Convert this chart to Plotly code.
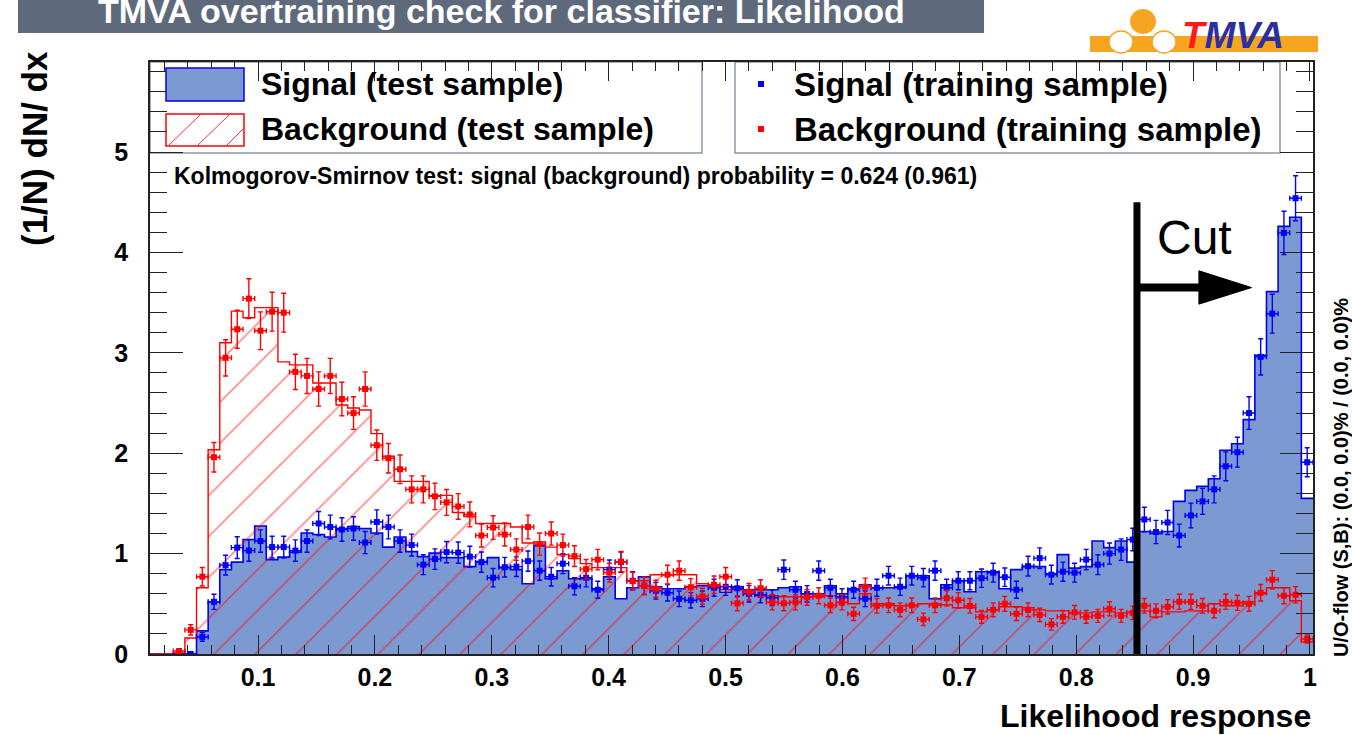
import numpy as np
import plotly.graph_objects as go

# ---------------- data ----------------
X_MIN, X_MAX = 0.0076, 1.0026
N_BINS = 100

# Signal, test sample (filled histogram), dN/dx per bin
sig_test = [0, 0, 0, 0, 0.23, 0.52, 0.84, 0.915, 1.14, 1.275,
            0.94, 0.965, 1.015, 1.205, 1.19, 1.165, 1.25, 1.27, 1.25, 1.205,
            1.065, 1.165, 1.02, 0.97, 1.005, 0.96, 0.96, 0.87, 0.92, 0.96,
            0.86, 0.84, 0.70, 1.08, 0.75, 0.83, 0.75, 0.75, 0.65, 0.77,
            0.55, 0.66, 0.77, 0.67, 0.65, 0.65, 0.67, 0.68, 0.68, 0.615,
            0.67, 0.64, 0.64, 0.64, 0.66, 0.67, 0.60, 0.60, 0.68, 0.60,
            0.65, 0.69, 0.66, 0.66, 0.66, 0.78, 0.78, 0.55, 0.69, 0.73,
            0.62, 0.82, 0.82, 0.65, 0.84, 0.87, 0.87, 0.80, 0.99, 0.855,
            0.87, 1.125, 1.06, 1.125, 0.915, 1.22, 1.20, 1.22, 1.52, 1.63,
            1.67, 1.745, 2.03, 2.095, 2.335, 2.975, 3.61, 4.26, 4.35, 1.55]

# Background, test sample (hatched histogram)
bkg_test = [0, 0, 0.01, 0.16, 0.66, 2.035, 3.10, 3.415, 3.35, 3.45,
            3.45, 2.91, 2.88, 2.88, 2.70, 2.70, 2.48, 2.45, 2.43, 2.195,
            1.97, 1.72, 1.72, 1.72, 1.58, 1.58, 1.41, 1.37, 1.30, 1.30,
            1.30, 1.265, 1.105, 1.115, 1.065, 0.99, 0.95, 0.90, 0.86, 0.86,
            0.86, 0.73, 0.73, 0.79, 0.79, 0.79, 0.79, 0.70, 0.68, 0.64,
            0.64, 0.62, 0.58, 0.58, 0.57, 0.57, 0.57, 0.57, 0.58, 0.56,
            0.50, 0.60, 0.50, 0.50, 0.48, 0.48, 0.50, 0.50, 0.49, 0.46,
            0.46, 0.42, 0.44, 0.47, 0.47, 0.46, 0.44, 0.43, 0.43, 0.40,
            0.41, 0.42, 0.42, 0.41, 0.42, 0.43, 0.37, 0.42, 0.42, 0.43,
            0.43, 0.50, 0.48, 0.48, 0.52, 0.60, 0.66, 0.66, 0.53, 0.12]

# Signal, training sample (points)
sig_train = [None, None, 0.0, 0.0, 0.17, 0.52, 0.885, 1.06, 1.03, 1.125,
             1.065, 1.065, 1.03, 1.125, 1.30, 1.265, 1.24, 1.25, 1.11, 1.315,
             1.265, 1.125, 1.085, 0.89, 0.945, 1.015, 1.01, 0.97, 0.915, 0.76,
             0.865, 0.87, 0.925, 0.83, 0.77, 0.90, 0.675, 0.76, 0.64, 0.84,
             0.915, 0.73, 0.68, 0.63, 0.61, 0.55, 0.535, 0.55, 0.66, 0.67,
             0.655, 0.60, 0.59, 0.56, 0.84, 0.64, 0.60, 0.83, 0.66, 0.57,
             0.64, 0.55, 0.66, 0.78, 0.67, 0.78, 0.76, 0.83, 0.66, 0.73,
             0.73, 0.755, 0.81, 0.765, 0.64, 0.875, 0.955, 0.79, 0.82, 0.81,
             0.94, 0.89, 1.00, 1.04, 1.14, 1.34, 1.215, 1.31, 1.18, 1.38,
             1.52, 1.64, 1.87, 2.01, 2.40, 2.96, 3.39, 4.195, 4.54, 1.91]

# Background, training sample (points)
bkg_train = [None, None, 0.03, 0.24, 0.77, 1.96, 2.95, 3.235, 3.54, 3.22,
             3.41, 3.40, 2.81, 2.77, 2.64, 2.77, 2.54, 2.40, 2.64, 2.08,
             1.95, 1.84, 1.64, 1.64, 1.57, 1.51, 1.47, 1.39, 1.18, 1.26,
             1.19, 1.04, 1.265, 1.095, 1.20, 1.085, 0.975, 0.845, 0.94, 0.81,
             0.92, 0.725, 0.68, 0.65, 0.79, 0.83, 0.665, 0.575, 0.69, 0.77,
             0.505, 0.62, 0.655, 0.515, 0.505, 0.515, 0.565, 0.58, 0.485, 0.515,
             0.40, 0.67, 0.48, 0.485, 0.44, 0.485, 0.345, 0.485, 0.555, 0.535,
             0.48, 0.37, 0.44, 0.50, 0.40, 0.44, 0.39, 0.295, 0.37, 0.415,
             0.37, 0.38, 0.45, 0.38, 0.41, 0.48, 0.43, 0.47, 0.52, 0.52,
             0.48, 0.43, 0.52, 0.51, 0.50, 0.61, 0.74, 0.58, 0.59, 0.15]

POISSON_SCALE = 0.105   # error bar size relative to sqrt(value)

x_tick_vals = [0.1, 0.2, 0.3, 0.4, 0.5, 0.6, 0.7, 0.8, 0.9, 1.0]
x_tick_text = ["0.1", "0.2", "0.3", "0.4", "0.5", "0.6", "0.7", "0.8", "0.9", "1"]
y_tick_vals = [0, 1, 2, 3, 4, 5]
y_tick_text = ["0", "1", "2", "3", "4", "5"]
Y_MAX = 5.897

CUT_VALUE = 0.852
title_text = "TMVA overtraining check for classifier: Likelihood"
ks_text = "Kolmogorov-Smirnov test: signal (background) probability = 0.624 (0.961)"
uo_text = "U/O-flow (S,B): (0.0, 0.0)% / (0.0, 0.0)%"
legend_left = ["Signal (test sample)", "Background (test sample)"]
legend_right = ["Signal (training sample)", "Background (training sample)"]

# ---------------- derived ----------------
edges = np.linspace(X_MIN, X_MAX, N_BINS + 1)
centers = 0.5 * (edges[:-1] + edges[1:])
half_bin = (X_MAX - X_MIN) / N_BINS / 2


def step_xy(vals):
    return list(edges), list(vals) + [vals[-1]]


def errs(vals):
    return [None if v is None else POISSON_SCALE * np.sqrt(v) for v in vals]


SIG_FILL = "#7d99d1"
SIG_LINE = "#0000ee"
BKG_LINE = "#ff0000"
FONT = "Liberation Sans"

# plot area in pixels
L, R, T, B = 150, 1313, 62, 654
W_PX, H_PX = 1352, 735


def px(x):
    return (x - L) / (R - L)


def py(y):
    return (B - y) / (B - T)


fig = go.Figure()

sx, sy = step_xy(sig_test)
fig.add_trace(go.Scatter(x=sx, y=sy, mode="lines", line=dict(shape="hv", color=SIG_LINE, width=1.6),
                         fill="tozeroy", fillcolor=SIG_FILL, hoverinfo="skip", showlegend=False))
bx, by = step_xy(bkg_test)
fig.add_trace(go.Scatter(x=bx, y=by, mode="lines", line=dict(shape="hv", color=BKG_LINE, width=1.4),
                         fill="tozeroy", fillcolor="rgba(0,0,0,0)",
                         fillpattern=dict(shape="/", fgcolor="rgba(255,0,0,0.9)", bgcolor="rgba(0,0,0,0)",
                                          size=29, solidity=0.06),
                         hoverinfo="skip", showlegend=False))

for vals, col in [(sig_train, "#0000ff"), (bkg_train, "#ff0000")]:
    fig.add_trace(go.Scatter(
        x=centers, y=vals, mode="markers",
        marker=dict(symbol="square", size=6, color=col),
        error_y=dict(type="data", array=errs(vals), color=col, thickness=1.4, width=2.5),
        error_x=dict(type="constant", value=half_bin, color=col, thickness=1.4, width=2.5),
        showlegend=False, hoverinfo="skip"))

shapes = []
annotations = []

# title bar
shapes.append(dict(type="rect", xref="paper", yref="paper", x0=px(18), x1=px(984), y0=py(33), y1=py(-5),
                   fillcolor="#5e6a7b", line=dict(width=0), layer="above"))
annotations.append(dict(text="<b>%s</b>" % title_text, xref="paper", yref="paper", x=px(501), y=py(11),
                        xanchor="center", yanchor="middle", showarrow=False,
                        font=dict(family=FONT, size=34, color="white")))

# TMVA logo
shapes.append(dict(type="rect", xref="paper", yref="paper", x0=px(1090), x1=px(1318), y0=py(52), y1=py(36),
                   fillcolor="#f7a521", line=dict(width=0), layer="above"))
shapes.append(dict(type="circle", xref="paper", yref="paper", x0=px(1130), x1=px(1156), y0=py(34), y1=py(9),
                   fillcolor="#f7a521", line=dict(width=0), layer="above"))
for cx in (1121, 1164):
    shapes.append(dict(type="circle", xref="paper", yref="paper", x0=px(cx - 12), x1=px(cx + 12), y0=py(53),
                       y1=py(31), fillcolor="white", line=dict(color="#f7a521", width=1.5), layer="above"))
annotations.append(dict(text="<b><i><span style='color:#ff1a1a'>T</span>MVA</i></b>", xref="paper",
                        yref="paper", x=px(1180), y=py(35), xanchor="left", yanchor="middle", showarrow=False,
                        font=dict(family=FONT, size=37, color="#2b2fa0")))

# legend boxes
for x0, x1 in ((150, 702), (735, 1280)):
    shapes.append(dict(type="rect", xref="paper", yref="paper", x0=px(x0), x1=px(x1), y0=py(153), y1=py(62),
                       fillcolor="white", line=dict(color="#8f98a8", width=1.5), layer="below"))
shapes.append(dict(type="rect", xref="paper", yref="paper", x0=px(166), x1=px(244), y0=py(101), y1=py(68),
                   fillcolor=SIG_FILL, line=dict(color=SIG_LINE, width=1.5), layer="above"))
shapes.append(dict(type="rect", xref="paper", yref="paper", x0=px(166), x1=px(244), y0=py(146), y1=py(114),
                   fillcolor="rgba(0,0,0,0)", line=dict(color=BKG_LINE, width=1.5), layer="above"))
for (a, b, c, d) in ((169, 145, 200, 115), (198, 145, 229, 115), (227, 145, 243, 129)):
    shapes.append(dict(type="line", xref="paper", yref="paper", x0=px(a), y0=py(b), x1=px(c), y1=py(d),
                       line=dict(color="rgba(255,0,0,0.8)", width=1), layer="above"))
for yc, col in ((84, "#0000ff"), (129, "#ff0000")):
    shapes.append(dict(type="rect", xref="paper", yref="paper", x0=px(758), x1=px(764), y0=py(yc + 3),
                       y1=py(yc - 3), fillcolor=col, line=dict(width=0), layer="above"))
for i, t in enumerate(legend_left):
    annotations.append(dict(text="<b>%s</b>" % t, xref="paper", yref="paper", x=px(259), y=py(84 + 45 * i),
                            xanchor="left", yanchor="middle", showarrow=False,
                            font=dict(family=FONT, size=32, color="black")))
for i, t in enumerate(legend_right):
    annotations.append(dict(text="<b>%s</b>" % t, xref="paper", yref="paper", x=px(792), y=py(84 + 45 * i),
                            xanchor="left", yanchor="middle", showarrow=False,
                            font=dict(family=FONT, size=33, color="black")))

annotations.append(dict(text="<b>%s</b>" % ks_text, xref="paper", yref="paper", x=px(172), y=py(176),
                        xanchor="left", yanchor="middle", showarrow=False,
                        font=dict(family=FONT, size=23, color="black")))

# cut marker
shapes.append(dict(type="line", xref="x", yref="y", x0=CUT_VALUE, x1=CUT_VALUE, y0=0, y1=4.50,
                   line=dict(color="black", width=7), layer="above"))
shapes.append(dict(type="line", xref="x", yref="y", x0=CUT_VALUE, x1=0.907, y0=3.65, y1=3.65,
                   line=dict(color="black", width=8), layer="above"))
shapes.append(dict(type="path", xref="x", yref="y", path="M 0.905 3.817 L 0.950 3.65 L 0.905 3.485 Z",
                   fillcolor="black", line=dict(color="black", width=1), layer="above"))
annotations.append(dict(text="Cut", xref="x", yref="y", x=0.9013, y=4.15, xanchor="center", yanchor="middle",
                        showarrow=False, font=dict(family=FONT, size=48, color="black")))

# axis titles & side text
annotations.append(dict(text="<b>(1/N) dN/ dx</b>", xref="paper", yref="paper", x=px(34), y=py(149),
                        xanchor="center", yanchor="middle", textangle=-90, showarrow=False,
                        font=dict(family=FONT, size=35, color="black")))
annotations.append(dict(text="<b>Likelihood response</b>", xref="paper", yref="paper", x=px(1313), y=py(716),
                        xanchor="right", yanchor="middle", showarrow=False,
                        font=dict(family=FONT, size=32, color="black")))
annotations.append(dict(text="<b>%s</b>" % uo_text, xref="paper", yref="paper", x=px(1341), y=py(478),
                        xanchor="center", yanchor="middle", textangle=-90, showarrow=False,
                        font=dict(family=FONT, size=20, color="black")))

fig.update_layout(
    width=W_PX, height=H_PX,
    margin=dict(l=L, r=W_PX - R, t=T, b=H_PX - B, pad=0),
    paper_bgcolor="white", plot_bgcolor="white",
    showlegend=False,
    shapes=shapes, annotations=annotations,
    font=dict(family=FONT, color="black"),
    xaxis=dict(range=[X_MIN, X_MAX], showgrid=False, zeroline=False, showline=True, linecolor="#222222",
               linewidth=1.5, mirror="allticks", ticks="inside", ticklen=19, tickwidth=1.4, tickcolor="#222222",
               tickvals=x_tick_vals, ticktext=["<b>%s</b>" % t for t in x_tick_text],
               tickfont=dict(family=FONT, size=25, color="black"), ticklabelstandoff=0,
               minor=dict(ticks="inside", ticklen=9, dtick=0.02, tick0=0, tickcolor="#222222", tickwidth=1.4)),
    yaxis=dict(range=[0, Y_MAX], showgrid=False, zeroline=False, showline=True, linecolor="#222222",
               linewidth=1.5, mirror="allticks", ticks="inside", ticklen=33, tickwidth=1.4, tickcolor="#222222",
               tickvals=y_tick_vals, ticktext=["<b>%s</b>" % t for t in y_tick_text],
               tickfont=dict(family=FONT, size=25, color="black"), ticklabelstandoff=15,
               minor=dict(ticks="inside", ticklen=17, dtick=0.2, tick0=0, tickcolor="#222222", tickwidth=1.4)),
)

fig.write_html("out.html")
